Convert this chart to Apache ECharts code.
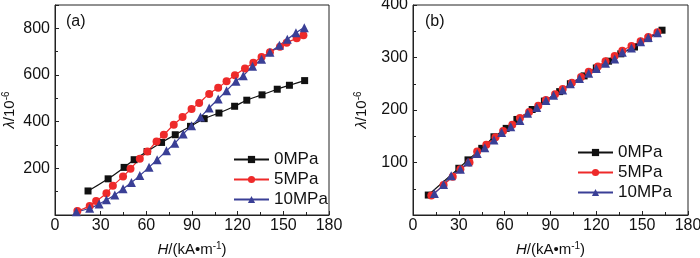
<!DOCTYPE html>
<html>
<head>
<meta charset="utf-8">
<script src="https://cdn.jsdelivr.net/npm/echarts@6/dist/echarts.min.js"></script>
<style>
  html, body { margin: 0; padding: 0; background: #fff; }
  #main { width: 700px; height: 258px; }
</style>
</head>
<body>
<div id="main"></div>
<script type="text/javascript">
// (a) 数据 [H, λ]
var a0MPa = [[21.7,103],[34.9,155],[45.4,204],[52,237],[60.5,272],[70,311],[79,344],[89,380],[98,413],[107.7,437],[118,466],[126,492],[136,515],[146,539],[154,556],[164,576]];
var a5MPa = [[14.7,17],[22.8,39],[27,60],[33.8,93],[38,125],[44.7,165],[49.6,198],[55.7,241],[60.7,272],[66.7,315],[71.5,344],[78,387],[83.8,420],[89.7,454],[94.7,480],[101.3,519],[107.2,545],[112.7,573],[118.2,599],[124.8,628],[130.3,652],[135.7,677],[141.2,698],[147.8,721],[152.2,738],[158.8,757],[163.2,770]];
var a10MPa = [[14,14],[22.8,29],[29,47],[33.8,65],[39.3,86],[44.7,112],[50.2,139],[55.7,169],[61.8,205],[67.1,237],[73.2,275],[78.7,308],[84.2,347],[89.7,383],[95.6,420],[101.3,459],[107.2,497],[112.7,533],[118.9,573],[123.7,597],[129.8,638],[135.7,667],[141.2,698],[147.4,727],[152.6,753],[158.3,781],[163.8,803]];
// (b) 数据
var b0MPa = [[10,38],[30,89],[36,105],[45,127],[53,149],[61,165],[68,182],[78,201],[86,217],[96,235],[103,250],[112,265],[120,280],[128,293],[136,307],[145,320],[154,336],[163,352]];
var b5MPa = [[12,37],[20,57],[26,73],[31,87],[37,100],[42,121],[48,134],[54,148],[59,160],[65,172],[70,185],[76,196],[82,208],[87,219],[93,230],[98,240],[104,252],[110,263],[115,273],[121,283],[126,293],[132,303],[137,313],[143,322],[149,331],[154,339],[160,348]];
var b10MPa = [[14,41],[20,58],[25,75],[31,87],[36,101],[42,117],[47,128],[53,143],[58,157],[64,168],[70,180],[75,194],[81,205],[87,218],[92,228],[98,238],[103,250],[109,260],[115,270],[120,279],[126,289],[132,297],[137,310],[143,318],[149,330],[154,338],[160,347]];
var names = ['0MPa', '5MPa', '10MPa'];

var FONT = 'Liberation Sans, Arial, sans-serif';
var myChart = echarts.init(document.getElementById('main'));

var nameStyle = {
    fontFamily: FONT, fontSize: 15, color: '#111',
    rich: {
        i: { fontFamily: FONT, fontSize: 15, fontStyle: 'italic', color: '#111' },
        sup: { fontFamily: FONT, fontSize: 10, color: '#111', padding: [0, 0, 8, 0] }
    }
};

function xAxis(idx) {
    return {
        type: 'value', gridIndex: idx, min: 0, max: 180, interval: 30,
        name: '{i|H}/(kA•m{sup|-1})', nameLocation: 'middle', nameGap: 26,
        nameTextStyle: nameStyle,
        axisLine: { lineStyle: { color: '#222', width: 1 } },
        axisTick: { inside: true, length: 4, lineStyle: { color: '#222' } },
        minorTick: { show: true, splitNumber: 2, length: 3, lineStyle: { color: '#222' } },
        axisLabel: { fontFamily: FONT, fontSize: 16, color: '#111', margin: 3 },
        splitLine: { show: false }
    };
}
function yAxis(idx, max, interval, gap) {
    return {
        type: 'value', gridIndex: idx, min: 0, max: max, interval: interval,
        name: '{i|λ}/10{sup|-6}', nameLocation: 'middle', nameGap: gap,
        nameTextStyle: nameStyle,
        axisLine: { lineStyle: { color: '#222', width: 1 } },
        axisTick: { inside: true, length: 4, lineStyle: { color: '#222' } },
        minorTick: { show: true, splitNumber: 2, length: 3, lineStyle: { color: '#222' } },
        axisLabel: {
            fontFamily: FONT, fontSize: 16, color: '#111', margin: 5,
            formatter: function (v) { return (v === 0 || v > 800) ? '' : v; }
        },
        splitLine: { show: false }
    };
}
function line(name, data, idx, symbol, size, color, smooth) {
    return {
        name: name, type: 'line', xAxisIndex: idx, yAxisIndex: idx, data: data,
        symbol: symbol, symbolSize: size, smooth: smooth,
        lineStyle: { color: color, width: 1.2 },
        itemStyle: { color: color },
        emphasis: { disabled: true }
    };
}
var legendBase = {
    orient: 'vertical', itemWidth: 35, itemHeight: 9, itemGap: 3,
    textStyle: { fontFamily: FONT, fontSize: 17, color: '#111' },
    data: names
};

option = {
    backgroundColor: '#fff',
    animation: false,
    title: [
        { text: '(a)', left: 61, top: 9, textStyle: { fontFamily: FONT, fontSize: 16, fontWeight: 'normal', color: '#111' } },
        { text: '(b)', left: 420, top: 9, textStyle: { fontFamily: FONT, fontSize: 16, fontWeight: 'normal', color: '#111' } }
    ],
    grid: [
        { left: 55, right: 371, top: 5, bottom: 43, outerBoundsMode: 'none', containLabel: false, show: true, borderColor: '#222', borderWidth: 1 },
        { left: 413, right: 12, top: 5, bottom: 43, outerBoundsMode: 'none', containLabel: false, show: true, borderColor: '#222', borderWidth: 1 }
    ],
    legend: [
        Object.assign({}, legendBase, { left: 228, top: 146, seriesIndex: [0, 1, 2] }),
        Object.assign({}, legendBase, { left: 572, top: 139, seriesIndex: [3, 4, 5] })
    ],
    xAxis: [xAxis(0), xAxis(1)],
    yAxis: [yAxis(0, 900, 200, 36), yAxis(1, 400, 100, 42)],
    series: [
        line('0MPa', a0MPa, 0, 'rect', 7, '#111', true),
        line('5MPa', a5MPa, 0, 'circle', 8, '#ee2a2a', true),
        line('10MPa', a10MPa, 0, 'triangle', 9, '#3a3f96', true),
        line('0MPa', b0MPa, 1, 'rect', 7, '#111', false),
        line('5MPa', b5MPa, 1, 'circle', 8, '#ee2a2a', true),
        line('10MPa', b10MPa, 1, 'triangle', 9, '#3a3f96', true)
    ]
};
myChart.setOption(option);
</script>
</body>
</html>
